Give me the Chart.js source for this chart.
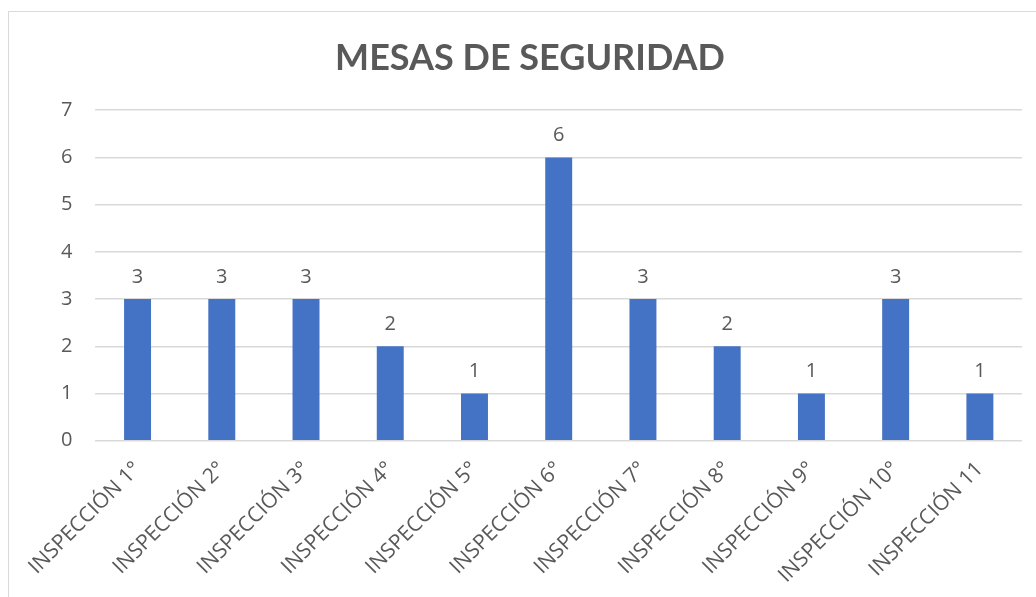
<!DOCTYPE html>
<html>
<head>
<meta charset="utf-8">
<script src="https://cdn.jsdelivr.net/npm/chart.js@4"></script>
<style>
    html, body { margin: 0; padding: 0; background: #fff; overflow: hidden; }
    #wrap { position: relative; width: 1036px; height: 597px; }
    #frame { position: absolute; left: 8px; top: 11px; width: 1100px; height: 700px; border: 1px solid #d9d9d9; }
    canvas { position: absolute; left: 0; top: 0; }
</style>
</head>
<body>
<div id="wrap">
    <div id="frame"></div>
    <canvas id="mesasChart" width="1036" height="597"></canvas>
</div>
<script>
const categorias = ['INSPECCIÓN 1°', 'INSPECCIÓN 2°', 'INSPECCIÓN 3°', 'INSPECCIÓN 4°', 'INSPECCIÓN 5°', 'INSPECCIÓN 6°',
    'INSPECCIÓN 7°', 'INSPECCIÓN 8°', 'INSPECCIÓN 9°', 'INSPECCIÓN 10°', 'INSPECCIÓN 11'];
const mesas = [3, 3, 3, 2, 1, 6, 3, 2, 1, 3, 1];
const titulo = 'MESAS DE SEGURIDAD';

const gris = '#595959';

// etiquetas de valor encima de cada barra
const etiquetasValor = {
    id: 'etiquetasValor',
    afterDatasetsDraw(chart) {
        const ctx = chart.ctx;
        ctx.save();
        ctx.font = '20px "Open Sans"';
        ctx.fillStyle = gris;
        ctx.textAlign = 'center';
        ctx.textBaseline = 'bottom';
        chart.getDatasetMeta(0).data.forEach((bar, i) => {
            ctx.fillText(chart.data.datasets[0].data[i], bar.x, bar.y - 12);
        });
        ctx.restore();
    }
};

new Chart(document.getElementById('mesasChart').getContext('2d'), {
    type: 'bar',
    data: {
        labels: categorias,
        datasets: [{
            label: titulo,
            data: mesas,
            backgroundColor: '#4472c4',
            borderWidth: 0,
            barPercentage: 0.64,
            categoryPercentage: 0.5
        }]
    },
    options: {
        responsive: false,
        animation: false,
        layout: {
            padding: { left: 38, right: 14, top: 37, bottom: 1 }
        },
        scales: {
            x: {
                grid: { display: false },
                border: { display: false },
                ticks: {
                    color: gris,
                    font: { family: 'Open Sans', size: 21 },
                    minRotation: 45,
                    maxRotation: 45,
                    autoSkip: false,
                    padding: 8
                }
            },
            y: {
                min: 0,
                max: 7,
                grid: { color: '#d9d9d9', lineWidth: 1.5, drawTicks: false },
                border: { display: false },
                ticks: {
                    stepSize: 1,
                    color: gris,
                    font: { family: 'Open Sans', size: 20 },
                    padding: 23
                }
            }
        },
        plugins: {
            legend: { display: false },
            tooltip: { enabled: false },
            title: {
                display: true,
                text: titulo,
                color: gris,
                font: { family: 'Lato', size: 36, weight: 'bold' },
                padding: { top: 0, bottom: 30 }
            }
        }
    },
    plugins: [etiquetasValor]
});
</script>
</body>
</html>
